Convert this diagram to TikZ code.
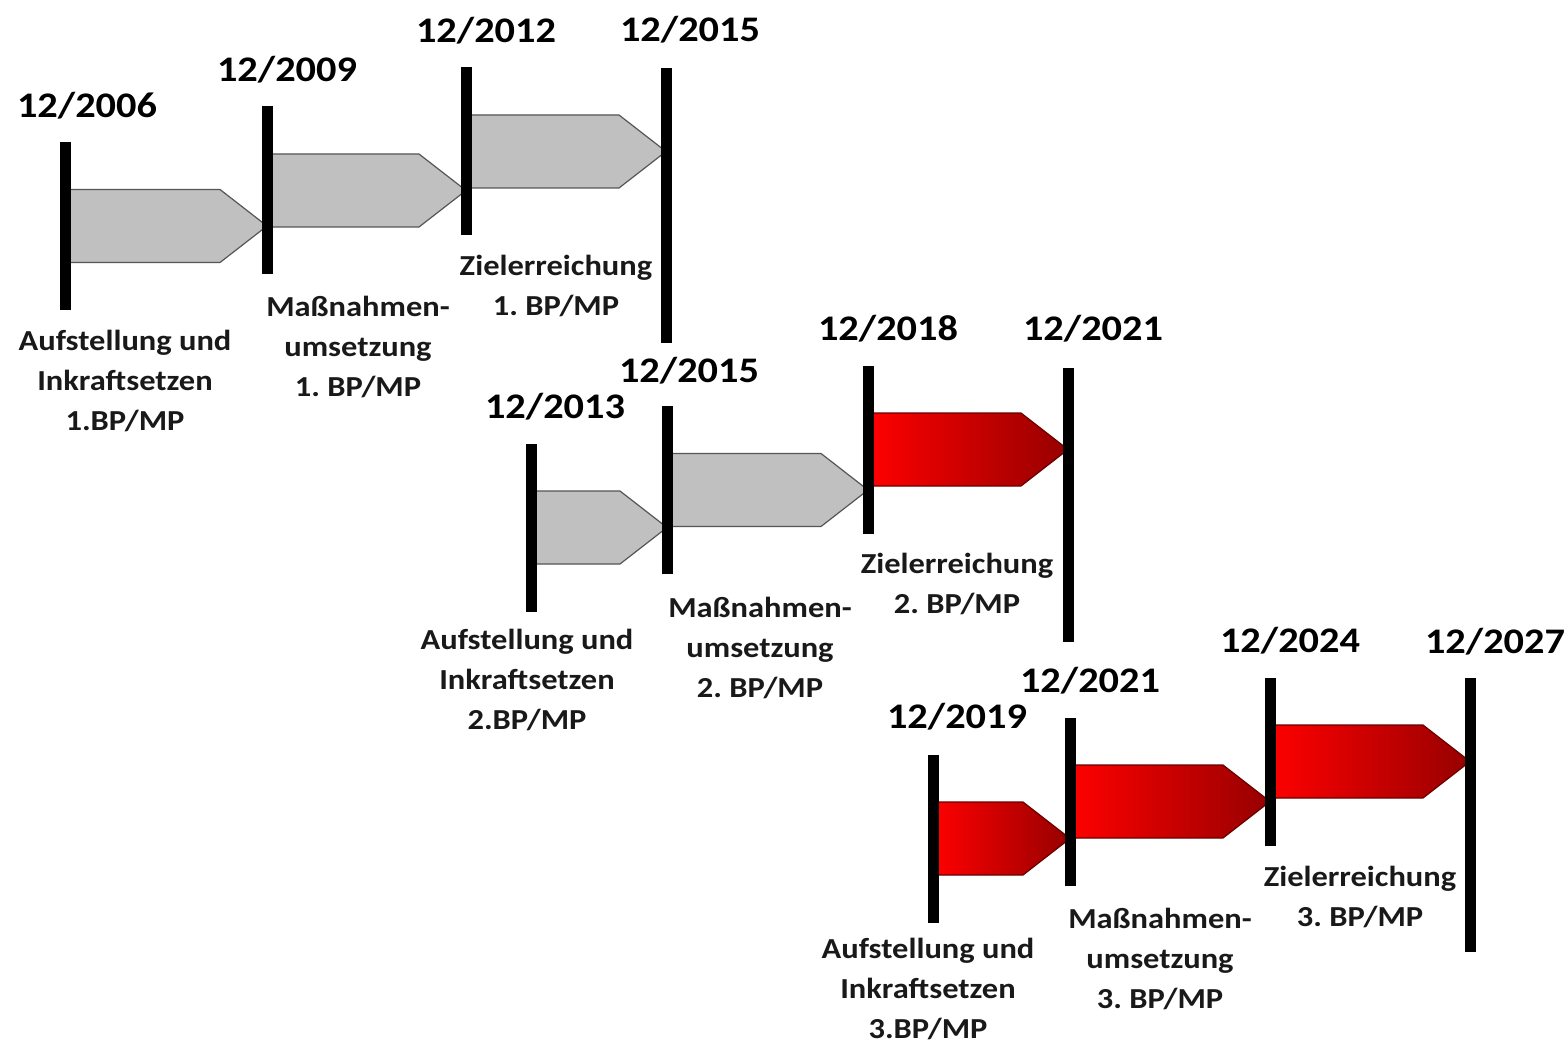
\documentclass[tikz,border=0pt]{standalone}
\usepackage{fontspec}
\setmainfont{Carlito}[FakeStretch=1.12]
\usepackage{tikz}
\usetikzlibrary{positioning, calc, backgrounds}
\frenchspacing
\definecolor{phasegray}{RGB}{192,192,192}
\definecolor{phaseedge}{RGB}{85,85,85}
\definecolor{phasered}{RGB}{255,0,0}
\definecolor{phasedark}{RGB}{150,0,0}
\tikzstyle{bar} = [rectangle, fill=black, inner sep=0pt, minimum width=5.5pt]
\tikzstyle{shortbar} = [bar, minimum height=84pt]
\tikzstyle{longbar} = [bar, minimum height=137pt]
\tikzstyle{datelabel} = [font=\bfseries\fontsize{18}{20}\selectfont, inner sep=0pt]
\tikzstyle{caption} = [font=\bfseries\fontsize{14.5}{20}\selectfont,
align=center, inner sep=0pt, text=black!90]
\tikzstyle{grayphase} = [fill=phasegray, draw=phaseedge, line width=0.6pt]
\tikzstyle{redphase} = [left color=phasered, right color=phasedark,
draw=phasedark!70!black, line width=0.6pt]

% phase arrow from one bar to the next
\newcommand{\phasearrow}[3]{%
  \path[#1] let \p1=(#2.center), \p2=(#3.center) in
    (\x1,\y1+18.25pt) -- (\x2-23.5pt,\y1+18.25pt) -- (\x2,\y1)
    -- (\x2-23.5pt,\y1-18.25pt) -- (\x1,\y1-18.25pt) -- cycle;}

\begin{document}
\begin{tikzpicture}[x=0.5pt, y=-0.5pt]
    \useasboundingbox (0,0) rectangle (1568,1043);

    % first plan
    \node (b06)  [shortbar] at (65,226)    {};
    \node (b09)  [shortbar] at (267,190.5) {};
    \node (b12)  [shortbar] at (466,151.5) {};
    \node (b15a) [longbar]  at (666,205.5) {};
    % second plan
    \node (b13)  [shortbar] at (531,527.5) {};
    \node (b15b) [shortbar] at (667,490)   {};
    \node (b18)  [shortbar] at (868,449.5) {};
    \node (b21a) [longbar]  at (1068,504.5) {};
    % third plan
    \node (b19)  [shortbar] at (933,838.5) {};
    \node (b21b) [shortbar] at (1070,801.5) {};
    \node (b24)  [shortbar] at (1270,761.5) {};
    \node (b27)  [longbar]  at (1470,815)  {};

    \node (d06)  [datelabel, above=12.25pt of b06,  anchor=base, xshift=11pt] {12/2006};
    \node (d09)  [datelabel, above=12.25pt of b09,  anchor=base, xshift=10pt] {12/2009};
    \node (d12)  [datelabel, above=12.25pt of b12,  anchor=base, xshift=10pt] {12/2012};
    \node (d15a) [datelabel, above=13.5pt of b15a,  anchor=base, xshift=12pt] {12/2015};
    \node (d13)  [datelabel, above=12.25pt of b13,  anchor=base, xshift=12pt] {12/2013};
    \node (d15b) [datelabel, above=11.5pt of b15b,  anchor=base, xshift=11pt] {12/2015};
    \node (d18)  [datelabel, above=12.25pt of b18,  anchor=base, xshift=10pt] {12/2018};
    \node (d21a) [datelabel, above=13.5pt of b21a,  anchor=base, xshift=12.5pt] {12/2021};
    \node (d19)  [datelabel, above=12.75pt of b19,  anchor=base, xshift=12pt] {12/2019};
    \node (d21b) [datelabel, above=12.25pt of b21b, anchor=base, xshift=10pt] {12/2021};
    \node (d24)  [datelabel, above=12.25pt of b24,  anchor=base, xshift=10pt] {12/2024};
    \node (d27)  [datelabel, above=12.25pt of b27,  anchor=base, xshift=12.5pt] {12/2027};

    \node (a1) [caption, below=9.5pt of b06,  xshift=30pt]   {Aufstellung und\\Inkraftsetzen\\1.BP/MP};
    \node (m1) [caption, below=10.5pt of b09, xshift=45.5pt] {Maßnahmen-\\umsetzung\\1. BP/MP};
    \node (z1) [caption, below=9.5pt of b12,  xshift=45pt]   {Zielerreichung\\1. BP/MP};
    \node (a2) [caption, below=8.5pt of b13,  xshift=-2pt]   {Aufstellung und\\Inkraftsetzen\\2.BP/MP};
    \node (m2) [caption, below=11pt of b15b,  xshift=46.5pt] {Maßnahmen-\\umsetzung\\2. BP/MP};
    \node (z2) [caption, below=9.5pt of b18,  xshift=44.5pt] {Zielerreichung\\2. BP/MP};
    \node (a3) [caption, below=7.5pt of b19,  xshift=-2.5pt] {Aufstellung und\\Inkraftsetzen\\3.BP/MP};
    \node (m3) [caption, below=11pt of b21b,  xshift=45pt]   {Maßnahmen-\\umsetzung\\3. BP/MP};
    \node (z3) [caption, below=10pt of b24,   xshift=45pt]   {Zielerreichung\\3. BP/MP};

    \begin{scope}[on background layer]
        \phasearrow{grayphase}{b06}{b09}
        \phasearrow{grayphase}{b09}{b12}
        \phasearrow{grayphase}{b12}{b15a}
        \phasearrow{grayphase}{b13}{b15b}
        \phasearrow{grayphase}{b15b}{b18}
        \phasearrow{redphase}{b18}{b21a}
        \phasearrow{redphase}{b19}{b21b}
        \phasearrow{redphase}{b21b}{b24}
        \phasearrow{redphase}{b24}{b27}
    \end{scope}
\end{tikzpicture}
\end{document}
